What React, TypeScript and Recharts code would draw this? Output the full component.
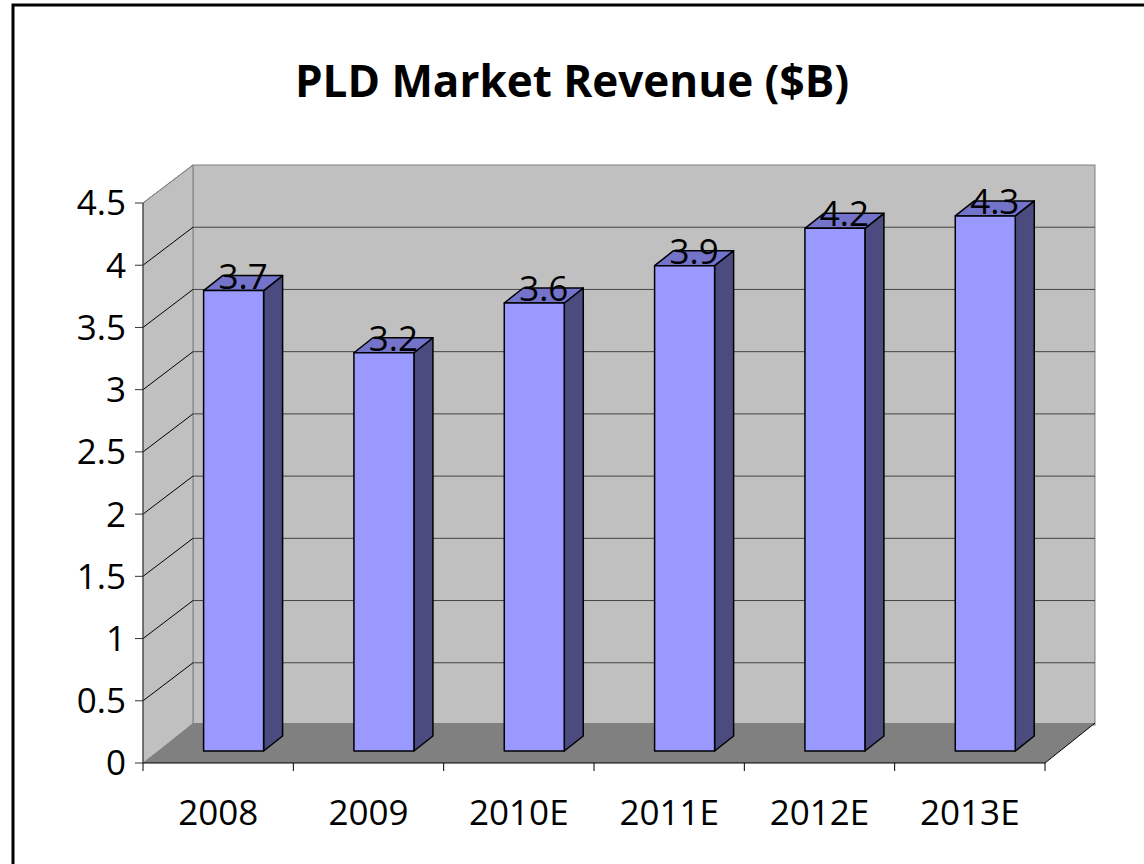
import { BarChart, Bar, XAxis, YAxis, CartesianGrid, LabelList } from 'recharts'

const years = ['2008', '2009', '2010E', '2011E', '2012E', '2013E']
const revenue = [3.7, 3.2, 3.6, 3.9, 4.2, 4.3]
const yTicks = [0, 0.5, 1, 1.5, 2, 2.5, 3, 3.5, 4, 4.5]

const data = years.map((year, i) => ({ year, revenue: revenue[i] }))

// fake 3d: back wall sits behind the axis plane by this much
const WALL_DX = 50
const WALL_DY = -38
const FLOOR_DY = -40
// bar front face is pushed in a little, and the bar has its own depth
const BAR_DX = 15.5
const BAR_DY = -12
const DEPTH_DX = 19
const DEPTH_DY = -15

const FONT = '"Open Sans", "Noto Sans", sans-serif'
const TEXT_SIZE = 35

function WallGridLine(props: any) {
  const { x, y, width, height, y1, index } = props
  const bx = x + WALL_DX
  const isTop = Math.abs(y1 - y) < 0.5
  const isBottom = Math.abs(y1 - (y + height)) < 0.5
  const bottom = y + height
  return (
    <g>
      {index === 0 && (
        <g>
          <rect x={bx} y={y + WALL_DY} width={width} height={height} fill="#C0C0C0" stroke="#808080" />
          <polygon
            points={`${x},${y} ${bx},${y + WALL_DY} ${bx},${bottom + WALL_DY} ${x},${bottom}`}
            fill="#C0C0C0"
            stroke="#808080"
          />
          <polygon
            points={`${x},${bottom} ${x + width},${bottom} ${bx + width},${bottom + FLOOR_DY} ${bx},${bottom + FLOOR_DY}`}
            fill="#808080"
          />
          <line x1={x + width} y1={bottom} x2={bx + width} y2={bottom + FLOOR_DY} stroke="#000" />
        </g>
      )}
      {!isBottom && (
        <line x1={x} y1={y1} x2={bx} y2={y1 + WALL_DY} stroke={isTop ? '#808080' : '#000'} />
      )}
      {!isBottom && !isTop && (
        <line x1={bx} y1={y1 + WALL_DY} x2={bx + width} y2={y1 + WALL_DY} stroke="#444" />
      )}
    </g>
  )
}

function Box3D(props: any) {
  const { x, y, width, height } = props
  if (x == null || height == null) return null
  const fx = x + BAR_DX
  const fy = y + BAR_DY
  const fr = fx + width
  const fb = fy + height
  return (
    <g stroke="#000" strokeWidth={1.5} strokeLinejoin="round">
      <polygon
        points={`${fr},${fy} ${fr + DEPTH_DX},${fy + DEPTH_DY} ${fr + DEPTH_DX},${fb + DEPTH_DY} ${fr},${fb}`}
        fill="#4B4B80"
      />
      <polygon
        points={`${fx},${fy} ${fx + DEPTH_DX},${fy + DEPTH_DY} ${fr + DEPTH_DX},${fy + DEPTH_DY} ${fr},${fy}`}
        fill="#7373C9"
      />
      <rect x={fx} y={fy} width={width} height={height} fill="#9999FF" />
    </g>
  )
}

function TopLabel(props: any) {
  const vb = props.viewBox || {}
  const x = props.x ?? vb.x
  const y = props.y ?? vb.y
  const width = props.width ?? vb.width
  if (x == null) return null
  return (
    <text
      x={x + width / 2 + BAR_DX + DEPTH_DX / 2}
      y={y + BAR_DY - 2}
      textAnchor="middle"
      fontSize={TEXT_SIZE}
      fontFamily={FONT}
      fill="#000"
    >
      {props.value}
    </text>
  )
}

function YearTick(props: any) {
  const { x, y, payload, index, visibleTicksCount } = props
  const half = payload?.offset || 75
  const isLast = index === visibleTicksCount - 1
  return (
    <g>
      <line x1={x - half} y1={y} x2={x - half} y2={y + 8} stroke="#000" />
      {isLast && <line x1={x + half} y1={y} x2={x + half} y2={y + 8} stroke="#000" />}
      <text x={x} y={y + 62} textAnchor="middle" fontSize={TEXT_SIZE} fontFamily={FONT} fill="#000">
        {payload.value}
      </text>
    </g>
  )
}

export default function App() {
  return (
    <div style={{ position: 'absolute', left: 0, top: 0, width: 1144, height: 864, overflow: 'hidden', background: '#fff' }}>
      <BarChart
        width={1144}
        height={864}
        data={data}
        margin={{ top: 203, right: 99, bottom: 21, left: 0 }}
        barCategoryGap="30%"
      >
        <CartesianGrid vertical={false} horizontal={WallGridLine} fill="none" />
        <XAxis
          dataKey="year"
          interval={0}
          height={80}
          tickLine={false}
          tickSize={0}
          tickMargin={0}
          axisLine={{ stroke: '#000' }}
          tick={YearTick}
        />
        <YAxis
          type="number"
          domain={[0, 4.5]}
          ticks={yTicks}
          interval={0}
          width={143}
          tickSize={8}
          tickMargin={9}
          axisLine={{ stroke: '#333' }}
          tickLine={{ stroke: '#333' }}
          tick={{ fill: '#000', fontSize: TEXT_SIZE, fontFamily: FONT }}
        />
        <Bar dataKey="revenue" shape={Box3D} isAnimationActive={false}>
          <LabelList dataKey="revenue" content={TopLabel} />
        </Bar>
      </BarChart>
      <svg width={1144} height={864} style={{ position: 'absolute', left: 0, top: 0, pointerEvents: 'none' }}>
        <rect x={13} y={5} width={1200} height={1000} fill="none" stroke="#000" strokeWidth={3} />
        <text x={572} y={97} textAnchor="middle" fontSize={44} fontWeight="bold" fontFamily={FONT} fill="#000">
          PLD Market Revenue ($B)
        </text>
      </svg>
    </div>
  )
}
